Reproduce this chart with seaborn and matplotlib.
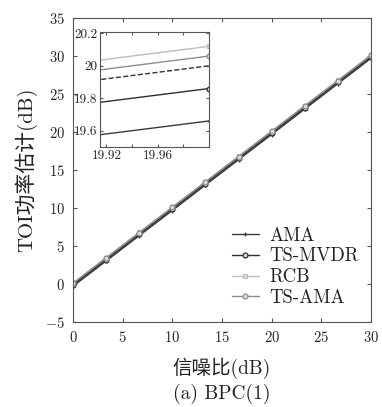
import matplotlib
matplotlib.use('Agg')
import matplotlib.pyplot as plt
import seaborn as sns

# SNR points (dB)
snr = [0, 3.33, 6.67, 10, 13.33, 16.67, 20, 23.33, 26.67, 30]
true_power = [0, 3.33, 6.67, 10, 13.33, 16.67, 20, 23.33, 26.67, 30]
ama = [-0.31, 3.0, 6.35, 9.66, 13.0, 16.34, 19.66, 23.0, 26.34, 29.68]
ts_mvdr = [-0.12, 3.2, 6.53, 9.86, 13.2, 16.53, 19.86, 23.2, 26.53, 29.86]
rcb = [0.13, 3.46, 6.8, 10.13, 13.46, 16.8, 20.12, 23.46, 26.8, 30.13]
ts_ama = [0.07, 3.4, 6.73, 10.06, 13.4, 16.73, 20.06, 23.4, 26.73, 30.06]

labels = ['AMA', 'TS-MVDR', 'RCB', 'TS-AMA']
series = [ama, ts_mvdr, rcb, ts_ama]
colors = ['#3a3a3a', '#2e2e2e', '#bdbdbd', '#8c8c8c']
markers = ['+', 'o', 's', 'o']

xticks = [0, 5, 10, 15, 20, 25, 30]
yticks = [-5, 0, 5, 10, 15, 20, 25, 30, 35]
inset_xticks = [19.92, 19.94, 19.96, 19.98, 20.0]
inset_xlabels = ['19.92', '', '19.96', '', '']
inset_yticks = [19.6, 19.8, 20.0, 20.2]
inset_ylabels = ['19.6', '19.8', '20', '20.2']

sns.set_style('ticks')
plt.rcParams['font.family'] = ['cmr10', 'Noto Sans CJK SC']
plt.rcParams['mathtext.fontset'] = 'cm'
plt.rcParams['axes.formatter.use_mathtext'] = True
plt.rcParams['axes.unicode_minus'] = True
plt.rcParams['axes.edgecolor'] = '#555555'
plt.rcParams['xtick.color'] = '#555555'
plt.rcParams['ytick.color'] = '#555555'
plt.rcParams['xtick.labelcolor'] = '#222222'
plt.rcParams['ytick.labelcolor'] = '#222222'
plt.rcParams['text.color'] = '#222222'
plt.rcParams['axes.labelcolor'] = '#222222'

fig = plt.figure(figsize=(3.82, 4.07), dpi=100)
ax = fig.add_axes([0.191, 0.209, 0.78, 0.747])


def draw(a, legend):
    sns.lineplot(x=snr, y=true_power, ax=a, color='#333333', linestyle='--',
                 linewidth=1.0, legend=False)
    for vals, lab, c, m in zip(series, labels, colors, markers):
        sns.lineplot(x=snr, y=vals, ax=a, color=c, marker=m, markersize=3.5,
                     markeredgecolor=c, markerfacecolor='#dddddd' if m != '+' else c,
                     markeredgewidth=0.9, linewidth=1.0,
                     label=lab if legend else None, legend=legend)


draw(ax, True)
ax.set_xlim(0, 30)
ax.set_ylim(-5, 35)
ax.set_xticks(xticks)
ax.set_yticks(yticks)
ax.tick_params(direction='in', top=True, right=True, length=3, labelsize=10.5, pad=6)
ax.set_xlabel('信噪比(dB)', fontsize=14, labelpad=9)
ax.set_ylabel('TOI功率估计(dB)', fontsize=15, labelpad=5)
leg = ax.legend(loc='lower right', bbox_to_anchor=(1.01, 0.0), fontsize=13.5,
                frameon=False, handlelength=1.45, handletextpad=0.55,
                labelspacing=0.15, borderpad=0.3)

# zoomed inset
axin = fig.add_axes([0.262, 0.639, 0.285, 0.283])
draw(axin, False)
axin.set_xlim(19.915, 20.0)
axin.set_ylim(19.5, 20.21)
axin.set_xticks(inset_xticks)
axin.set_xticklabels(inset_xlabels)
axin.set_yticks(inset_yticks)
axin.set_yticklabels(inset_ylabels)
axin.tick_params(direction='in', top=True, right=True, length=2, labelsize=9.5, pad=2)

fig.text(0.58, 0.032, '(a) BPC(1)', ha='center', va='center', fontsize=14)

fig.savefig('out.png', dpi=100)
